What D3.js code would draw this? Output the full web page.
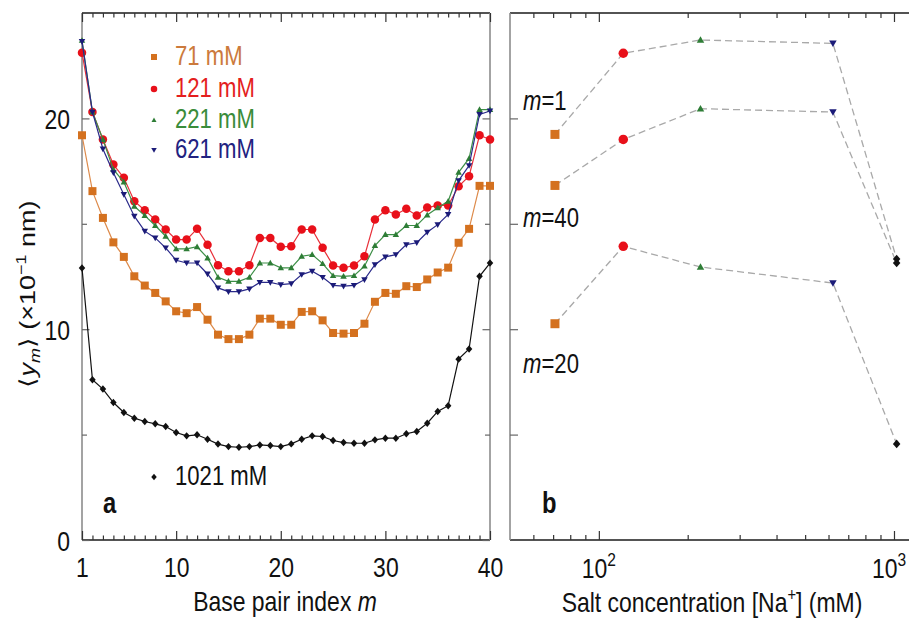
<!DOCTYPE html>
<html>
<head>
<meta charset="utf-8">
<script src="https://cdn.jsdelivr.net/npm/d3@7"></script>
<style>
  body { margin: 0; background: #fff; }
  svg { display: block; }
  text { font-family: "Liberation Sans", Arial, Helvetica, sans-serif; }
</style>
</head>
<body>
<svg id="fig" width="909" height="622"></svg>
<script>
// ---- data -------------------------------------------------------------
// base-pair index along the 40-bp duplex
const basePairs = [1,2,3,4,5,6,7,8,9,10,11,12,13,14,15,16,17,18,19,20,
                   21,22,23,24,25,26,27,28,29,30,31,32,33,34,35,36,37,38,39,40];

// <y_m> (x0.1 nm) per base pair, one array per salt concentration
const na71   = [19.2,16.55,15.28,14.12,13.43,12.51,12.07,11.72,11.32,10.85,10.76,11.05,10.45,9.74,9.53,9.53,9.74,10.5,10.5,10.21,
                10.21,10.82,10.85,10.42,9.82,9.79,9.82,10.26,11.3,11.72,11.68,12.04,12.0,12.36,12.69,12.92,14.1,14.76,16.8,16.8];
const na121  = [23.12,20.3,19.0,17.81,17.18,16.07,15.64,15.2,14.73,14.25,14.25,14.76,14.01,13.03,12.75,12.75,13.03,14.33,14.33,13.91,
                13.93,14.73,14.73,13.86,13.02,12.91,13.02,13.46,15.2,15.64,15.44,15.71,15.39,15.77,15.87,15.87,16.78,17.26,19.2,19.0];
const na221  = [23.7,20.3,19.0,17.58,16.98,15.83,15.39,14.92,14.41,13.81,13.81,13.91,13.38,12.46,12.27,12.27,12.46,13.14,13.14,12.91,
                12.91,13.46,13.54,13.11,12.54,12.51,12.54,12.99,13.97,14.49,14.49,14.92,14.92,15.42,15.76,16.07,17.44,18.1,20.42,20.42];
const na621  = [23.65,20.3,18.55,17.42,16.39,15.36,14.65,14.33,13.86,13.27,13.14,13.14,12.62,11.96,11.78,11.78,11.91,12.22,12.22,12.11,
                12.16,12.59,12.75,12.46,12.08,12.04,12.08,12.35,13.06,13.43,13.54,14.01,14.1,14.6,14.96,15.44,17.05,17.76,20.19,20.35];
const na1021 = [12.9,7.6,7.16,6.52,6.05,5.78,5.62,5.51,5.38,5.1,4.94,4.99,4.78,4.55,4.43,4.4,4.43,4.51,4.48,4.43,
                4.56,4.78,4.94,4.91,4.72,4.62,4.59,4.59,4.75,4.83,4.83,5.04,5.15,5.54,6.1,6.37,8.58,9.06,12.51,13.14];

// salt dependence for three selected base pairs
const saltConc = [71, 121, 221, 621, 1021];
const pairM1   = [19.24, 23.09, 23.72, 23.56, 13.33];
const pairM40  = [16.82, 19.0, 20.46, 20.30, 13.14];
const pairM20  = [10.26, 13.93, 12.95, 12.19, 4.56];
const pairNames = ["1", "40", "20"];

const seriesNames = ["71 mM", "121 mM", "221 mM", "621 mM", "1021 mM"];
const yTickValues = [0, 10, 20];
const yMinorValues = [5, 15];
const xTicksA = [1, 10, 20, 30, 40];
const xTicksB = [100, 1000];
const xMinorB = [60,70,80,90,200,300,400,500,600,700,800,900];

// ---- styling ----------------------------------------------------------
const SX = 0.82;           // narrow type face
const FS = 28;
const marker = [
  { color: "#d4711f", text: "#cc7a3c", line: "#dd8a4a", shape: "square"  },
  { color: "#e8101a", text: "#e41e1e", line: "#e8303a", shape: "circle"  },
  { color: "#2e7d36", text: "#3a8c3a", line: "#3d8f47", shape: "tri"     },
  { color: "#1b1b78", text: "#222280", line: "#2a2a8a", shape: "itri"    },
  { color: "#111111", text: "#111111", line: "#111111", shape: "diamond" }
];

function shapePath(shape, s) {
  // s ~ nominal marker width in px
  const h = s / 2;
  switch (shape) {
    case "square":  return `M${-h},${-h}H${h}V${h}H${-h}Z`;
    case "circle":  return d3.symbol(d3.symbolCircle, Math.PI * h * h)();
    case "tri":     return `M0,${-h * 1.0}L${h},${h * 0.75}L${-h},${h * 0.75}Z`;
    case "itri":    return `M0,${h * 1.0}L${h},${-h * 0.75}L${-h},${-h * 0.75}Z`;
    case "diamond": return `M0,${-h * 1.15}L${h},0L0,${h * 1.15}L${-h},0Z`;
  }
}

const svg = d3.select("#fig");

// ---- scales -----------------------------------------------------------
const xA = d3.scaleLinear().domain([1, 40]).range([82, 490]);
const yS = d3.scaleLinear().domain([0, 25]).range([540, 13]);
const xB = d3.scaleLog().domain([50, 1225]).range([510, 920]);

// text helper: narrow-looking text placed at (x, y)
function label(parent, x, y, anchor, opts = {}) {
  return parent.append("text")
    .attr("transform", `translate(${x},${y}) scale(${SX},1)`)
    .attr("text-anchor", anchor)
    .attr("font-size", opts.size || FS)
    .attr("font-weight", opts.weight || "normal")
    .attr("fill", opts.fill || "#111");
}

// ---- frames and ticks -------------------------------------------------
const frame = svg.append("g");
const vCol = "#8c8c8c", hCol = "#1a1a1a";

function hLine(x1, x2, y) {
  frame.append("line").attr("x1", x1).attr("x2", x2).attr("y1", y).attr("y2", y)
    .attr("stroke", hCol).attr("stroke-width", 1.6);
}
function vLine(x, y1, y2) {
  frame.append("line").attr("x1", x).attr("x2", x).attr("y1", y1).attr("y2", y2)
    .attr("stroke", vCol).attr("stroke-width", 1.6);
}
hLine(82, 490, 13); hLine(82, 490, 540);
vLine(82, 13, 540); vLine(490, 13, 540);
hLine(510, 920, 13); hLine(510, 920, 540);
vLine(510, 13, 540);

function styleAxis(g, col) {
  g.select(".domain").remove();
  g.selectAll(".tick line").attr("stroke", col).attr("stroke-width", 1.2);
  g.selectAll(".tick text")
    .attr("font-size", FS).attr("fill", "#111")
    .attr("font-family", '"Liberation Sans", Arial, sans-serif');
}

// panel a: x ticks (bottom + top, inward)
const minorA = basePairs.filter(v => !xTicksA.includes(v));
[[540, d3.axisBottom], [13, d3.axisTop]].forEach(([y, ax]) => {
  const gm = frame.append("g").attr("transform", `translate(0,${y})`)
    .call(ax(xA).tickValues(minorA).tickSize(-4.5).tickFormat(""));
  styleAxis(gm, "#333");
  const gM = frame.append("g").attr("transform", `translate(0,${y})`)
    .call(ax(xA).tickValues(xTicksA).tickSize(-9).tickPadding(17)
      .tickFormat(y === 540 ? d3.format("d") : ""));
  styleAxis(gM, "#333");
  gM.selectAll(".tick text").attr("transform", `scale(${SX},1)`).attr("dy", "0.72em");
});

// panel a: y ticks (left labelled, right plain)
[[82, d3.axisLeft, true], [490, d3.axisRight, false]].forEach(([x, ax, lab]) => {
  const gm = frame.append("g").attr("transform", `translate(${x},0)`)
    .call(ax(yS).tickValues(yMinorValues).tickSize(-5).tickFormat(""));
  styleAxis(gm, "#666");
  const gM = frame.append("g").attr("transform", `translate(${x},0)`)
    .call(ax(yS).tickValues(yTickValues).tickSize(-7.5).tickPadding(14.6)
      .tickFormat(lab ? d3.format("d") : ""));
  styleAxis(gM, "#666");
  gM.selectAll(".tick text").attr("transform", `scale(${SX},1)`).attr("dy", "0.36em");
});

// panel b: log x ticks
[[540, d3.axisBottom], [13, d3.axisTop]].forEach(([y, ax]) => {
  const gm = frame.append("g").attr("transform", `translate(0,${y})`)
    .call(ax(xB).tickValues(xMinorB).tickSize(-5).tickFormat(""));
  styleAxis(gm, "#333");
  const gM = frame.append("g").attr("transform", `translate(0,${y})`)
    .call(ax(xB).tickValues(xTicksB).tickSize(-9).tickFormat(""));
  styleAxis(gM, "#333");
});
// decade labels 10^2, 10^3 (the last one nudged inside the page edge)
xTicksB.forEach((v, i) => {
  const t = label(svg, xB(v) - (i === xTicksB.length - 1 ? 5 : 0), 578, "middle");
  t.append("tspan").text("10");
  t.append("tspan").attr("font-size", 19).attr("dy", -12).text(String(Math.round(Math.log10(v))));
});
// panel b: y ticks
{
  const gm = frame.append("g").attr("transform", `translate(510,0)`)
    .call(d3.axisLeft(yS).tickValues([5, 10, 15, 20]).tickSize(-8).tickFormat(""));
  styleAxis(gm, "#666");
}

// ---- panel a series ---------------------------------------------------
const seriesA = [na71, na121, na221, na621, na1021];
const drawOrder = [0, 4, 1, 2, 3];
const markSizeA = [8, 8.5, 6.5, 6.5, 6.5];
const lineA = d3.line().x((d, i) => xA(basePairs[i])).y(d => yS(d));
const gA = svg.append("g");
drawOrder.forEach(k => {
  const st = marker[k];
  gA.append("path").datum(seriesA[k]).attr("d", lineA)
    .attr("fill", "none").attr("stroke", st.line).attr("stroke-width", 1.2);
  gA.selectAll(null).data(seriesA[k]).join("path")
    .attr("transform", (d, i) => `translate(${xA(basePairs[i])},${yS(d)})`)
    .attr("d", shapePath(st.shape, markSizeA[k]))
    .attr("fill", st.color);
});

// legend
const legendRows = [65, 97, 128, 158];
const legendSym = [6, 6.5, 5, 5.5];
[0, 1, 2, 3].forEach(k => {
  const st = marker[k];
  svg.append("path").attr("transform", `translate(154,${legendRows[k] - 8})`)
    .attr("d", shapePath(st.shape, legendSym[k])).attr("fill", st.color);
  label(svg, 175, legendRows[k], "start", { fill: st.text, size: 27 }).text(seriesNames[k]);
});
svg.append("path").attr("transform", "translate(154,477)")
  .attr("d", shapePath("diamond", 5.5)).attr("fill", marker[4].color);
label(svg, 175, 485, "start", { size: 27 }).text(seriesNames[4]);

// ---- panel b series ---------------------------------------------------
const pairs = [pairM1, pairM40, pairM20];
const lineB = d3.line().x((d, i) => xB(saltConc[i])).y(d => yS(d));
const markSizeB = [9, 9.5, 7.5, 7.5, 7.5];
const gB = svg.append("g");
pairs.forEach(p => {
  gB.append("path").datum(p).attr("d", lineB)
    .attr("fill", "none").attr("stroke", "#a9a9a9").attr("stroke-width", 1.3)
    .attr("stroke-dasharray", "7,4");
});
pairs.forEach(p => {
  p.forEach((v, i) => {
    gB.append("path").attr("transform", `translate(${xB(saltConc[i])},${yS(v)})`)
      .attr("d", shapePath(marker[i].shape, markSizeB[i])).attr("fill", marker[i].color);
  });
});
// m labels
[[110, 0], [227, 1], [373, 2]].forEach(([y, k]) => {
  const t = label(svg, 523, y, "start", { size: 27 });
  t.append("tspan").attr("font-style", "italic").text("m");
  t.append("tspan").text("=" + pairNames[k]);
});

// ---- axis titles and panel letters ------------------------------------
{
  const t = label(svg, 285, 611, "middle");
  t.append("tspan").text("Base pair index ");
  t.append("tspan").attr("font-style", "italic").text("m");
}
{
  const t = label(svg, 712, 612, "middle");
  t.append("tspan").text("Salt concentration [Na");
  t.append("tspan").attr("font-size", 18).attr("dy", -11).text("+");
  t.append("tspan").attr("dy", 11).text("] (mM)");
}
{
  const t = svg.append("text")
    .attr("transform", `translate(27,294) scale(${SX},1) rotate(-90)`)
    .attr("text-anchor", "middle").attr("font-size", 27).attr("fill", "#111")
    .attr("dy", "0.35em");
  t.append("tspan").text("\u27E8");
  t.append("tspan").attr("font-style", "italic").text("y");
  t.append("tspan").attr("font-style", "italic").attr("font-size", 18).attr("dy", 7).text("m");
  t.append("tspan").attr("dy", -7).text("\u27E9 (\u00D710");
  t.append("tspan").attr("font-size", 18).attr("dy", -11).text("\u22121");
  t.append("tspan").attr("dy", 11).text(" nm)");
}
label(svg, 103, 513, "start", { weight: "bold", size: 29 }).text("a");
label(svg, 542, 513, "start", { weight: "bold", size: 29 }).text("b");
</script>
</body>
</html>
